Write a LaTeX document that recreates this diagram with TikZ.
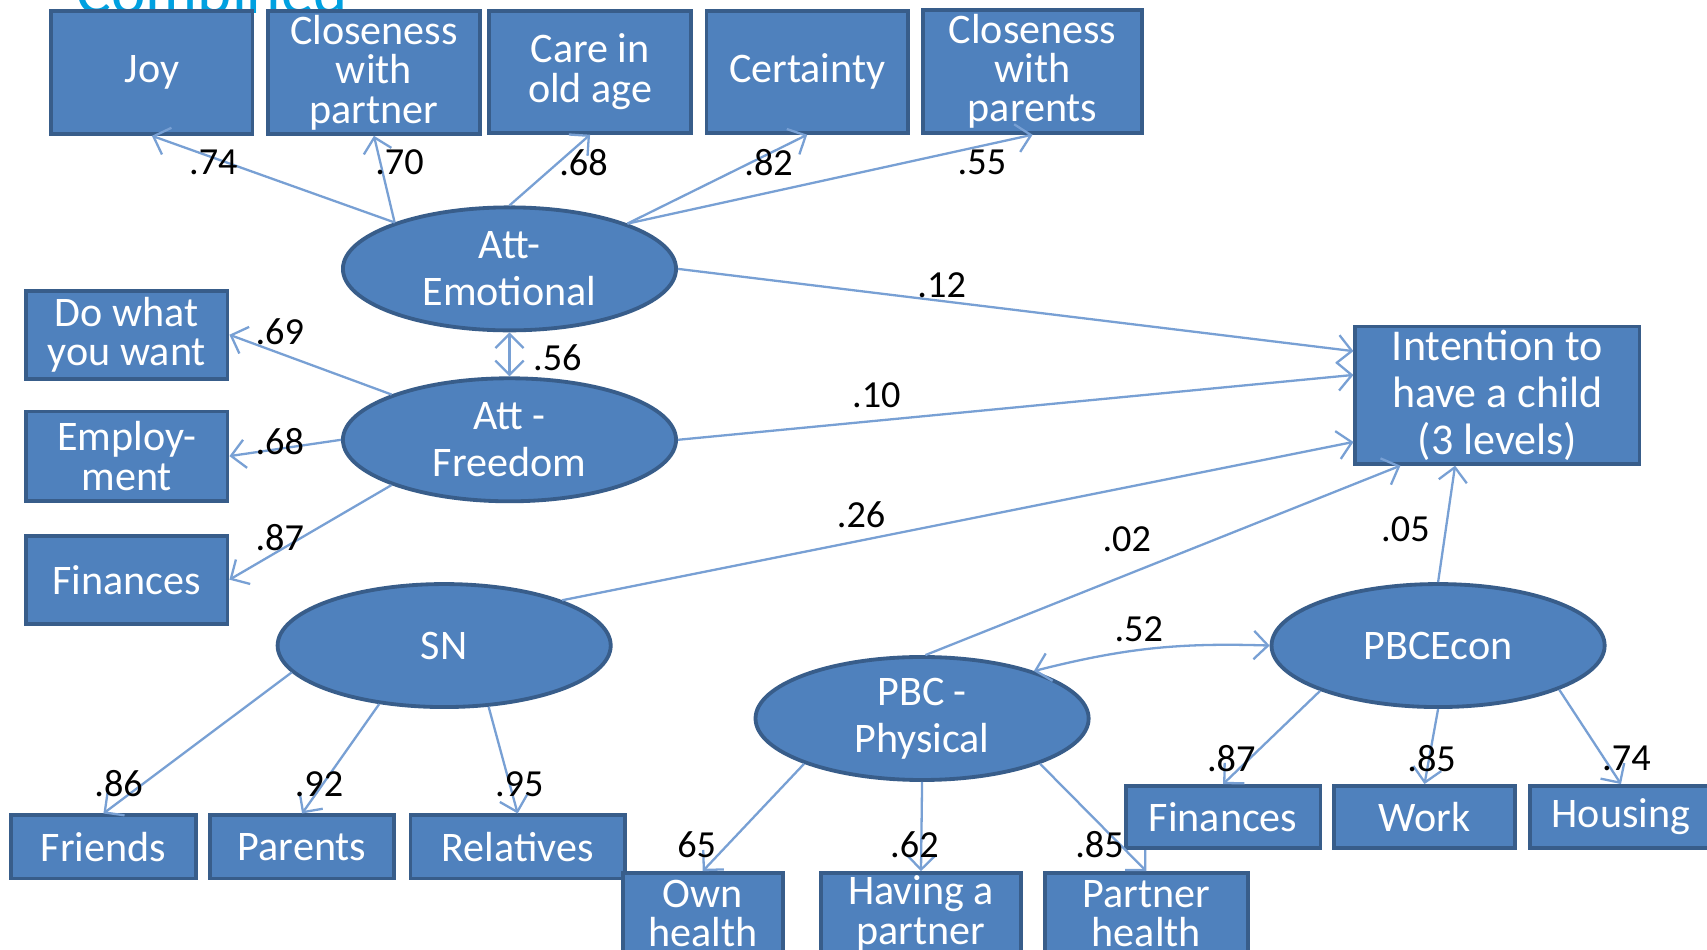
\documentclass[tikz,border=0pt]{standalone}
\usepackage{fontspec}
\setmainfont{Carlito}
\usetikzlibrary{shapes.geometric,arrows.meta}
\definecolor{boxblue}{RGB}{79,129,189}
\definecolor{rimblue}{RGB}{56,93,138}
\definecolor{pathblue}{RGB}{120,160,212}
\definecolor{titleblue}{RGB}{0,160,224}
\begin{document}
\begin{tikzpicture}[x=0.1mm,y=-0.1mm,
  >={Straight Barb[length=1.3mm,width=2.6mm]},
  box/.style={draw=rimblue,line width=1pt,fill=boxblue,text=white,align=center,
    inner sep=0pt,font=\fontsize{11}{10.3}\selectfont},
  latent/.style={ellipse,draw=rimblue,line width=1pt,fill=boxblue,text=white,align=center,
    inner sep=0pt,minimum width=30.6mm,minimum height=11.3mm,font=\fontsize{11}{12.2}\selectfont},
  path/.style={draw=pathblue,line width=0.6pt,->},
  lbl/.style={inner sep=0pt,text=black,font=\fontsize{10}{10}\selectfont},
  title/.style={inner sep=0pt,text=titleblue,font=\fontsize{17}{17}\selectfont}]
\clip (0,0) rectangle (1568,872);
\fill[white] (0,0) rectangle (1568,872);
\node[title,anchor=base west] (title) at (70,12) {Combined};

\node[box,minimum width=18.5mm,minimum height=11.3mm] (joy) at (139.5,66.5) {Joy};
\node[box,minimum width=19.5mm,minimum height=11.3mm] (closepart) at (343.5,66.5) {Closeness\\with\\partner};
\node[box,minimum width=18.6mm,minimum height=11.2mm] (care) at (542,66) {Care in\\old age};
\node[box,minimum width=18.5mm,minimum height=11.2mm] (certain) at (741.5,66) {Certainty};
\node[box,minimum width=20.1mm,minimum height=11.3mm] (closepar) at (948.5,65.5) {Closeness\\with\\parents};

\node[box,minimum width=18.5mm,minimum height=8.1mm] (dowhat) at (116.5,307.5) {Do what\\you want};
\node[box,minimum width=18.5mm,minimum height=8.2mm] (employ) at (116.5,419) {Employ-\\ment};
\node[box,minimum width=18.5mm,minimum height=8.1mm] (finfree) at (116.5,532.5) {Finances};

\node[latent] (emo) at (468,247) {Att-\\Emotional};
\node[latent] (free) at (468,404) {Att -\\Freedom};
\node[latent] (sn) at (408,593) {SN};
\node[latent] (phys) at (847,660) {PBC -\\Physical};
\node[latent] (econ) at (1321,593) {PBCEcon};

\node[box,minimum width=26.1mm,minimum height=12.6mm,font=\fontsize{11.5}{12.2}\selectfont] (intent) at (1375.5,363) {Intention to\\have a child\\(3 levels)};

\node[box,minimum width=17mm,minimum height=5.8mm] (friends) at (95,778) {Friends};
\node[box,minimum width=16.9mm,minimum height=5.8mm] (parents) at (277.5,778) {Parents};
\node[box,minimum width=19.7mm,minimum height=5.8mm] (relatives) at (475.5,778) {Relatives};

\node[box,minimum width=14.7mm,minimum height=7.4mm] (ownh) at (645.5,839) {Own\\health};
\node[box,minimum width=18.4mm,minimum height=7.4mm] (havep) at (846,839) {Having a\\partner};
\node[box,minimum width=18.6mm,minimum height=7.4mm] (parth) at (1053,839) {Partner\\health};

\node[box,minimum width=17.9mm,minimum height=5.7mm] (finecon) at (1123.5,750.5) {Finances};
\node[box,minimum width=16.7mm,minimum height=5.7mm] (work) at (1308.5,750.5) {Work};
\node[box,minimum width=16.7mm,minimum height=5.7mm] (housing) at (1489,750.5) {Housing};

\draw[path] (emo.158) -- (joy.south);
\draw[path] (emo.158) -- (closepart.south);
\draw[path] (emo.90) -- (care.south);
\draw[path] (emo.21) -- (certain.south);
\draw[path] (emo.21) -- (closepar.south);
\draw[path] (emo.east) -- (intent.163);
\draw[path,<->] (emo.south) -- (free.north);

\draw[path] (free.159) -- (dowhat.east);
\draw[path] (free.west) -- (employ.east);
\draw[path] (free.201) -- (finfree.east);
\draw[path] (free.east) -- (intent.172);

\draw[path] (sn.21) -- (intent.198);
\draw[path] (sn.190) -- (friends.north);
\draw[path] (sn.222) -- (parents.north);
\draw[path] (sn.306) -- (relatives.north);

\draw[path] (phys.87) -- (intent.216);
\draw[path,<->] (phys.23) to[bend left=8] (econ.west);
\draw[path] (phys.201) -- (ownh.north);
\draw[path] (phys.south) -- (havep.north);
\draw[path] (phys.339) -- (parth.north);

\draw[path] (econ.north) -- (intent.239);
\draw[path] (econ.201) -- (finecon.north);
\draw[path] (econ.south) -- (work.north);
\draw[path] (econ.340) -- (housing.north);

\node[lbl] (w74) at (196,149) {.74};
\node[lbl] (w70) at (367,149) {.70};
\node[lbl] (w68) at (536,149) {.68};
\node[lbl] (w82) at (706,149) {.82};
\node[lbl] (w55) at (902,149) {.55};
\node[lbl] (w12) at (865,262) {.12};
\node[lbl] (w56) at (512,329) {.56};
\node[lbl] (w69) at (257,305) {.69};
\node[lbl] (w68b) at (257,406) {.68};
\node[lbl] (w87) at (257,494) {.87};
\node[lbl] (w10) at (805,363) {.10};
\node[lbl] (w26) at (791,473) {.26};
\node[lbl] (w02) at (1035,495) {.02};
\node[lbl] (w05) at (1291,486) {.05};
\node[lbl] (w52) at (1046,578) {.52};
\node[lbl] (w86) at (109,720) {.86};
\node[lbl] (w92) at (293,720) {.92};
\node[lbl] (w95) at (477,720) {.95};
\node[lbl] (w65) at (640,776) {65};
\node[lbl] (w62) at (840,776) {.62};
\node[lbl] (w85) at (1010,776) {.85};
\node[lbl] (w87b) at (1131,697) {.87};
\node[lbl] (w85b) at (1315,697) {.85};
\node[lbl] (w74b) at (1494,697) {.74};
\end{tikzpicture}
\end{document}
